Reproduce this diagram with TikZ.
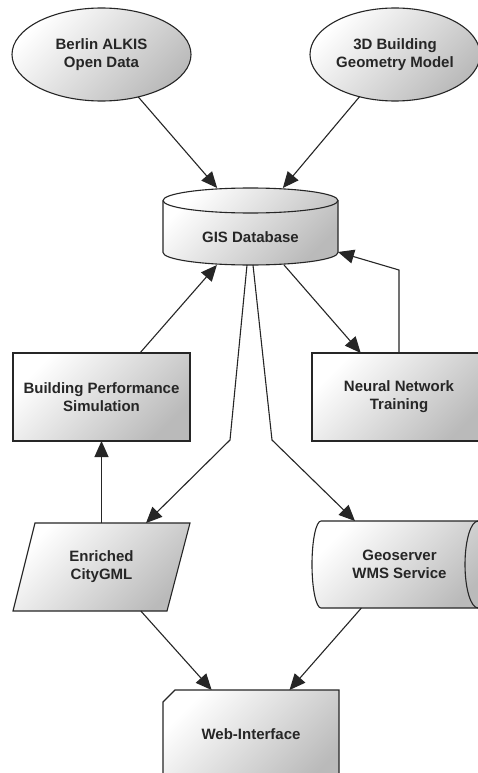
\documentclass[tikz,border=0pt]{standalone}
\usepackage{fontspec}
\setmainfont{Liberation Sans}
\usetikzlibrary{shapes.geometric,arrows.meta,calc}
\begin{document}
\begin{tikzpicture}[x=1pt,y=-1pt,
  shp/.style={draw=black!85, line width=1.1pt, top color=white, bottom color=black!27, shading angle=45},
  lbl/.style={font=\fontsize{15}{18}\selectfont\bfseries, text=black!85, align=center, inner sep=0pt, outer sep=0pt},
  arr/.style={draw=black!85, line width=1.1pt, -{Triangle[length=16pt,width=14pt]}},
  ln/.style={draw=black!85, line width=1.1pt}]
\useasboundingbox (0,0) rectangle (478,773);
\fill[white] (0,0) rectangle (478,773);
\clip (0,0) rectangle (478,773);

% shapes drawn directly
\draw[shp] (163,200.5) -- (163,252.5) arc[start angle=180,end angle=0,x radius=87.5,y radius=12.5] -- (338,200.5) arc[start angle=0,end angle=-180,x radius=87.5,y radius=12.5] -- cycle;
\draw[ln] (163,200.5) arc[start angle=180,end angle=0,x radius=87.5,y radius=12.5];
\draw[shp] (35,523) -- (190,523) -- (167,611) -- (13,611) -- cycle;
\draw[shp] (321,521) -- (478,521) arc[start angle=-90,end angle=90,x radius=13,y radius=43.5] -- (321,608) arc[start angle=90,end angle=270,x radius=9,y radius=43.5] -- cycle;
\draw[ln] (478,521) arc[start angle=270,end angle=90,x radius=13,y radius=43.5];
\draw[shp] (175,690) -- (339,690) -- (339,790) -- (163,790) -- (163,702) -- cycle;

% nodes
\node[shp, lbl, ellipse, minimum width=179pt, minimum height=93pt] (alkis) at (101.5,54.5) {Berlin ALKIS\\Open Data};
\node[shp, lbl, ellipse, minimum width=170pt, minimum height=93pt] (geom) at (395,54.5) {3D Building\\Geometry Model};
\node[lbl, minimum width=175pt, minimum height=77pt, label={[lbl, yshift=-10.5pt]center:GIS Database}] (gis) at (250.5,226.5) {};
\node[shp, lbl, minimum width=177pt, minimum height=88pt] (bps) at (101.5,397) {Building Performance\\Simulation};
\node[shp, lbl, minimum width=174pt, minimum height=88pt] (nn) at (399,397) {Neural Network\\Training};
\node[lbl, minimum width=177pt, minimum height=88pt] (ens) at (101.5,567) {Enriched\\CityGML};
\node[lbl, minimum width=157pt, minimum height=87pt] (geo) at (399.5,564.5) {Geoserver\\WMS Service};
\node[lbl, minimum width=176pt, minimum height=88pt] (web) at (251,734) {Web-Interface};

% connectors
\coordinate (bendL) at (230,440);
\coordinate (bendR) at (272,440);
\draw[arr] (alkis) -- (gis);
\draw[arr] (geom) -- (gis);
\draw[arr] (gis) -- (nn);
\draw[arr] (bps) -- (gis);
\draw[arr] (nn.north) -- ++(0,-83) -- ($(gis.south east)+(0,-13)$);
\draw[arr] ($(gis.south)+(-3.5,0)$) -- (bendL) -- (ens);
\draw[arr] ($(gis.south)+(2.5,0)$) -- (bendR) -- (geo);
\draw[arr] (ens) -- (bps);
\draw[arr] (ens) -- (web);
\draw[arr] (geo) -- (web);
\end{tikzpicture}
\end{document}
